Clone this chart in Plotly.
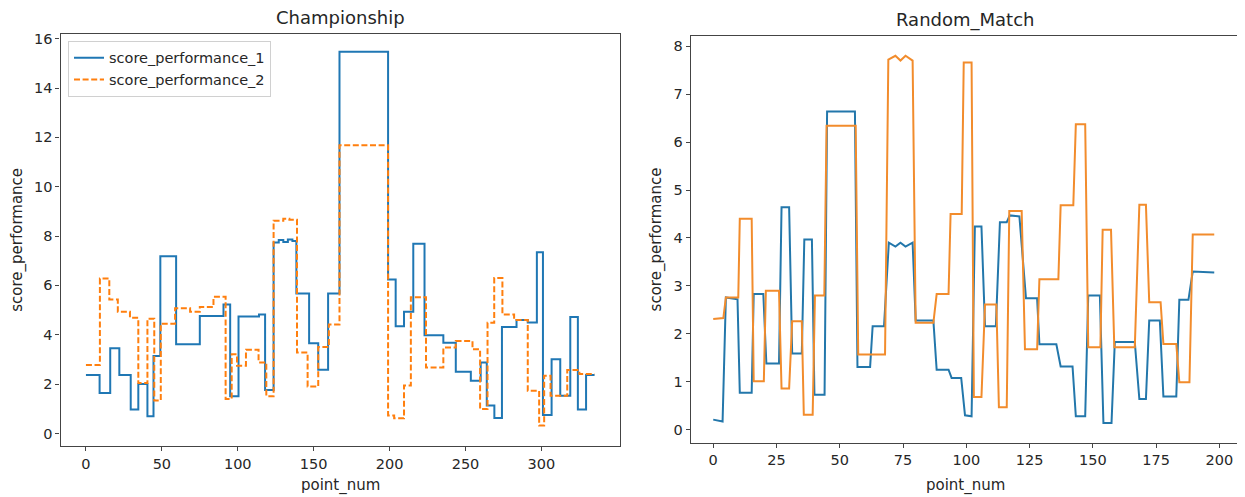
import plotly.graph_objects as go

# ---------------- Championship (left) : step change points ----------------
champ_x1 = [0, 9, 16, 22, 29.5, 34.5, 40.5, 44.5, 49, 59.4, 75, 90.6, 95, 100.5, 114, 118,
            123.6, 127, 130, 133, 136, 138.6, 147, 153, 159.5, 167, 199, 204, 209.5, 215.6,
            223, 235.4, 243.6, 253.5, 260, 264, 269, 274, 283.6, 291, 297, 301, 306.7, 312.4,
            319, 324, 329.4, 335]
champ_y1 = [2.37, 1.64, 3.45, 2.37, 0.97, 2.0, 0.70, 3.14, 7.18, 3.62, 4.76, 5.23, 1.51, 4.74, 4.82, 1.76,
            7.74, 7.84, 7.76, 7.86, 7.80, 5.67, 3.66, 2.58, 5.67, 15.47, 6.24, 4.35, 4.93, 7.69,
            3.98, 3.68, 2.50, 2.14, 2.88, 1.13, 0.63, 4.31, 4.60, 4.50, 7.34, 0.75, 3.01, 1.53,
            4.72, 0.97, 2.37, 2.37]

champ_x2 = [0, 9.2, 15.4, 21, 29, 34.5, 40.5, 45, 49.3, 58.7, 68.6, 75, 84, 92, 96, 99.5, 105.4,
            113.7, 118.8, 123.6, 130, 134, 139, 146, 153, 160, 167, 199, 203, 209.5, 214, 224, 235.4,
            243.6, 254.6, 259.6, 264.5, 268.9, 274.3, 282, 291, 298.5, 301.8, 306, 317, 325, 335]
champ_y2 = [2.77, 6.28, 5.43, 4.93, 4.69, 2.04, 4.65, 1.33, 4.45, 5.07, 4.93, 5.13, 5.54, 1.40, 3.21, 2.74, 3.39,
            2.88, 1.51, 8.62, 8.70, 8.66, 3.28, 1.90, 3.50, 4.42, 11.68, 0.73, 0.62, 1.94, 5.52, 2.67, 3.48,
            3.75, 3.41, 0.99, 4.49, 6.30, 4.82, 4.60, 1.73, 0.32, 2.34, 1.53, 2.57, 2.41, 2.41]

# ---------------- Random_Match (right) : line vertices ----------------
rand_x1 = [0, 3.7, 5, 9.6, 10.5, 15.2, 16, 19.8, 21, 26, 27, 30, 31.2, 35, 36, 39, 40, 44, 45, 56,
           57, 62, 63, 67.5, 69.4, 72, 74, 76, 78.8, 80, 87, 88.3, 93, 94.2, 98, 99.5, 102.1, 103.4,
           106, 107.4, 111.7, 113.3, 116, 117.2, 121, 123.6, 128, 128.9, 135.6, 137.3, 142, 143.3,
           147, 148.2, 152.8, 154.2, 157.4, 158.7, 166.6, 168.4, 171, 172.3, 176.5, 177.9, 183,
           184.2, 187.8, 189.5, 198]
rand_y1 = [0.21, 0.17, 2.76, 2.72, 0.77, 0.77, 2.83, 2.83, 1.38, 1.38, 4.64, 4.64, 1.59, 1.59, 3.97, 3.97,
           0.73, 0.73, 6.64, 6.64, 1.31, 1.31, 2.16, 2.16, 3.90, 3.82, 3.90, 3.82, 3.90, 2.28, 2.28, 1.25,
           1.25, 1.08, 1.08, 0.30, 0.28, 4.24, 4.24, 2.16, 2.16, 4.33, 4.33, 4.47, 4.45, 2.74, 2.74, 1.78,
           1.78, 1.32, 1.32, 0.28, 0.28, 2.80, 2.80, 0.14, 0.14, 1.83, 1.83, 0.64, 0.64, 2.28, 2.28, 0.69,
           0.69, 2.71, 2.71, 3.30, 3.28]

rand_x2 = [0, 4, 5, 9.9, 10.5, 15.2, 16, 20, 20.8, 26, 27, 30, 31.2, 35, 35.8, 39.3, 40.2, 43.9, 44.8,
           56.3, 57.3, 67.9, 69.2, 72, 74, 76, 78.8, 80, 87, 88.3, 93, 93.8, 98.2, 99, 102.1, 103, 106,
           107.4, 111.9, 112.9, 116, 117, 121.9, 123.2, 128, 128.9, 136.4, 137.3, 142.3, 143.3, 147,
           148.2, 153, 153.9, 157.2, 158.5, 166.6, 168.4, 171, 172.3, 176.8, 177.9, 183, 184.2, 188.2,
           189.5, 198]
rand_y2 = [2.31, 2.33, 2.76, 2.76, 4.40, 4.40, 1.01, 1.01, 2.90, 2.90, 0.86, 0.86, 2.26, 2.26, 0.31, 0.31,
           2.80, 2.80, 6.34, 6.34, 1.57, 1.57, 7.72, 7.80, 7.70, 7.80, 7.70, 2.23, 2.23, 2.83, 2.83, 4.50,
           4.50, 7.66, 7.66, 0.68, 0.68, 2.61, 2.61, 0.47, 0.47, 4.56, 4.56, 1.68, 1.68, 3.14, 3.14, 4.68,
           4.68, 6.37, 6.37, 1.72, 1.72, 4.17, 4.17, 1.72, 1.72, 4.69, 4.69, 2.66, 2.66, 1.79, 1.79, 0.99,
           0.99, 4.07, 4.07]

champ_xticks = [0, 50, 100, 150, 200, 250, 300]
champ_yticks = [0, 2, 4, 6, 8, 10, 12, 14, 16]
rand_xticks = [0, 25, 50, 75, 100, 125, 150, 175, 200]
rand_yticks = [0, 1, 2, 3, 4, 5, 6, 7, 8]

BLUE = "#1f77b4"
ORANGE = "#ff7f0e"
BLUE_R = "#2377ab"
ORANGE_R = "#f28c2c"
FONT = "DejaVu Sans"
TXT = "#262626"
OFF = 8                      # page body margin of the html page
W, H = 1245 - OFF, 497 - OFF


def px(v):
    return v - OFF


fig = go.Figure()
fig.add_trace(go.Scatter(x=champ_x1, y=champ_y1, mode="lines", line_shape="hv",
                         line=dict(color=BLUE, width=2), name="score_performance_1",
                         xaxis="x", yaxis="y"))
fig.add_trace(go.Scatter(x=champ_x2, y=champ_y2, mode="lines", line_shape="hv",
                         line=dict(color=ORANGE, width=2, dash="6px,2.6px"), name="score_performance_2",
                         xaxis="x", yaxis="y"))
fig.add_trace(go.Scatter(x=rand_x1, y=rand_y1, mode="lines", showlegend=False,
                         line=dict(color=BLUE_R, width=2), xaxis="x2", yaxis="y2"))
fig.add_trace(go.Scatter(x=rand_x2, y=rand_y2, mode="lines", showlegend=False,
                         line=dict(color=ORANGE_R, width=2), xaxis="x2", yaxis="y2"))

L1, R1, T1, B1 = px(60.5), px(620), px(30.7), px(445.7)
L2, R2, T2, B2 = px(690.7), px(1239.3), px(33.3), px(442.3)

axcommon = dict(showline=True, mirror=True, linecolor="#444", linewidth=1.2,
                ticks="outside", ticklen=4, tickcolor="#444", showgrid=False, zeroline=False,
                tickfont=dict(family=FONT, size=14.5, color=TXT))

fig.update_layout(
    width=W, height=H, margin=dict(l=0, r=0, t=0, b=0),
    paper_bgcolor="white", plot_bgcolor="white",
    xaxis=dict(domain=[L1 / W, R1 / W], anchor="y", range=[-16.75, 351.75],
               tickvals=champ_xticks, **axcommon),
    yaxis=dict(domain=[1 - B1 / H, 1 - T1 / H], anchor="x", range=[-0.51, 16.21],
               tickvals=champ_yticks, **axcommon),
    xaxis2=dict(domain=[L2 / W, R2 / W], anchor="y2", range=[-8.9, 207.9],
                tickvals=rand_xticks, **axcommon),
    yaxis2=dict(domain=[1 - B2 / H, 1 - T2 / H], anchor="x2", range=[-0.27, 8.21],
                tickvals=rand_yticks, **axcommon),
    legend=dict(x=px(68) / W, y=1 - px(38) / H, xanchor="left", yanchor="top",
                bgcolor="rgba(255,255,255,0.8)", bordercolor="#d0d0d0", borderwidth=1,
                font=dict(family=FONT, size=14.5, color=TXT), tracegroupgap=0),
    font=dict(family=FONT, color=TXT),
)

ann = [
    dict(text="Championship", x=(L1 + R1) / 2 / W, y=1 - px(15) / H, size=18),
    dict(text="Random_Match", x=(L2 + R2) / 2 / W, y=1 - px(17) / H, size=18),
    dict(text="point_num", x=(L1 + R1) / 2 / W, y=1 - px(485) / H, size=15),
    dict(text="point_num", x=(L2 + R2) / 2 / W, y=1 - px(485) / H, size=15),
]
for a in ann:
    fig.add_annotation(text=a["text"], x=a["x"], y=a["y"], xref="paper", yref="paper",
                       xanchor="center", yanchor="middle", showarrow=False,
                       font=dict(family=FONT, size=a["size"], color=TXT))
for xc, yc in [(px(18), (T1 + B1) / 2), (px(656), (T2 + B2) / 2)]:
    fig.add_annotation(text="score_performance", x=xc / W, y=1 - yc / H, xref="paper", yref="paper",
                       xanchor="center", yanchor="middle", showarrow=False, textangle=-90,
                       font=dict(family=FONT, size=15, color=TXT))

fig.write_html("out.html")
